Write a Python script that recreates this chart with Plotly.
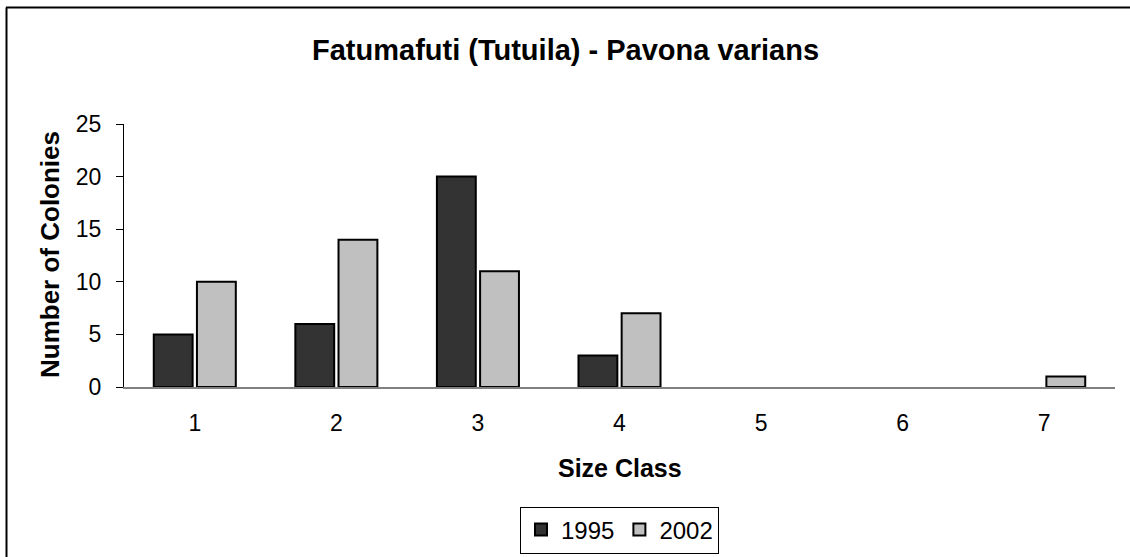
import plotly.graph_objects as go

categories = ["1", "2", "3", "4", "5", "6", "7"]
series_names = ["1995", "2002"]
values_1995 = [5, 6, 20, 3, 0, 0, 0]
values_2002 = [10, 14, 11, 7, 0, 0, 1]
colors = ["#333333", "#c0c0c0"]

W, H = 1130, 557
L, R, T, B = 124, 15, 124, 170
pw, ph = W - L - R, H - T - B

def px_x(x):
    return (x - L) / pw

def px_y(y):
    return (H - B - y) / ph

fig = go.Figure()
for name, vals, col in zip(series_names, [values_1995, values_2002], colors):
    fig.add_trace(go.Bar(
        x=categories, y=[v if v else None for v in vals], name=name,
        marker=dict(color=col, line=dict(color="black", width=2)),
    ))

font = "Liberation Sans, Arial, sans-serif"
fig.update_layout(
    width=W, height=H,
    margin=dict(l=L, r=R, t=T, b=B, autoexpand=False),
    paper_bgcolor="white", plot_bgcolor="white",
    barmode="group", bargap=0.39, bargroupgap=0.1,
    font=dict(family=font, size=23, color="black"),
    showlegend=True,
    legend=dict(orientation="h", x=0.5, xanchor="center", y=px_y(530), yanchor="middle",
                bordercolor="black", borderwidth=1, font=dict(size=24),
                tracegroupgap=0),
    xaxis=dict(type="category", showgrid=False, showline=True, linecolor="#808080",
               linewidth=1.5, ticks="", tickfont=dict(size=23), zeroline=False,
               ticklabelstandoff=15),
    yaxis=dict(range=[0, 25], dtick=5, showgrid=False, showline=True, linecolor="black",
               linewidth=1, ticks="outside", ticklen=7, tickcolor="black",
               tickfont=dict(size=23), zeroline=False, ticklabelstandoff=10),
    annotations=[
        dict(text="<b>Fatumafuti (Tutuila) - Pavona varians</b>", xref="paper", yref="paper",
             x=px_x(565), y=px_y(50), xanchor="center", yanchor="middle", showarrow=False,
             font=dict(size=29)),
        dict(text="<b>Size Class</b>", xref="paper", yref="paper",
             x=0.5, y=px_y(468), xanchor="center", yanchor="middle", showarrow=False,
             font=dict(size=25)),
        dict(text="<b>Number of Colonies</b>", xref="paper", yref="paper",
             x=px_x(50), y=px_y(255), xanchor="center", yanchor="middle", showarrow=False,
             textangle=-90, font=dict(size=26)),
    ],
    shapes=[
        dict(type="line", xref="paper", yref="paper", x0=px_x(6), x1=px_x(1130),
             y0=px_y(7.5), y1=px_y(7.5), line=dict(color="black", width=2)),
        dict(type="line", xref="paper", yref="paper", x0=px_x(6.5), x1=px_x(6.5),
             y0=px_y(7.5), y1=px_y(560), line=dict(color="black", width=2)),
    ],
)

fig.write_html("out.html", config={"displayModeBar": False},
               post_script="document.body.style.margin='0px';")
